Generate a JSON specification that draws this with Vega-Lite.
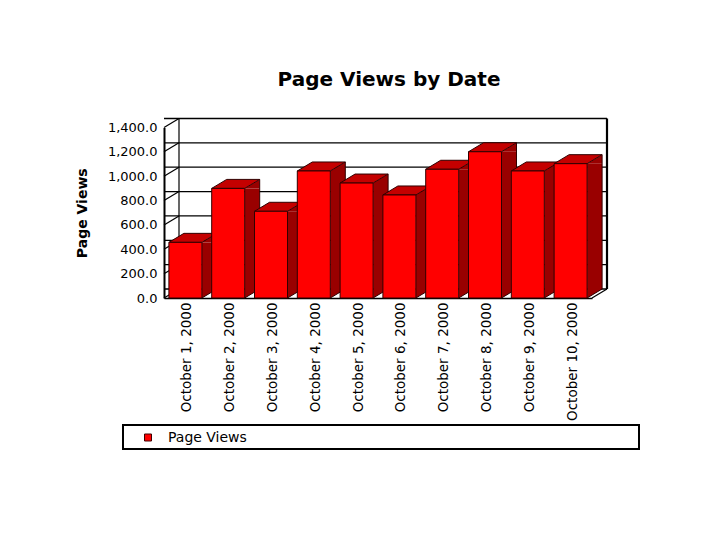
{
  "$schema": "https://vega.github.io/schema/vega-lite/v6.json",
  "width": 428,
  "height": 170.5,
  "autosize": {"type": "none"},
  "padding": {"left": 164, "top": 127.5, "right": 128, "bottom": 242},
  "background": "white",
  "title": {"text": "Page Views by Date", "font": "DejaVu Sans", "fontSize": 20, "fontWeight": "bold", "color": "black", "anchor": "middle", "dx": 11, "offset": 26},
  "config": {"view": {"stroke": null}, "axisY": {"labelOverlap": false, "labelBound": false, "labelSeparation": 0}},
  "datasets": {
    "views": [
      {"date": "October 1, 2000", "views": 457, "base": 0},
      {"date": "October 2, 2000", "views": 900, "base": 0},
      {"date": "October 3, 2000", "views": 712, "base": 0},
      {"date": "October 4, 2000", "views": 1043, "base": 0},
      {"date": "October 5, 2000", "views": 944, "base": 0},
      {"date": "October 6, 2000", "views": 846, "base": 0},
      {"date": "October 7, 2000", "views": 1057, "base": 0},
      {"date": "October 8, 2000", "views": 1201, "base": 0},
      {"date": "October 9, 2000", "views": 1043, "base": 0},
      {"date": "October 10, 2000", "views": 1103, "base": 0}
    ],
    "ticks": [{"tick": 0}, {"tick": 200}, {"tick": 400}, {"tick": 600}, {"tick": 800}, {"tick": 1000}, {"tick": 1200}, {"tick": 1400}],
    "wall": [{"date": "October 1, 2000", "last": "October 10, 2000", "low": 0, "high": 1400}],
    "tickwall": [
      {"date": "October 1, 2000", "tick": 0}, {"date": "October 1, 2000", "tick": 200}, {"date": "October 1, 2000", "tick": 400}, {"date": "October 1, 2000", "tick": 600},
      {"date": "October 1, 2000", "tick": 800}, {"date": "October 1, 2000", "tick": 1000}, {"date": "October 1, 2000", "tick": 1200}, {"date": "October 1, 2000", "tick": 1400}
    ]
  },
  "layer": [
    {
      "data": {"name": "ticks"},
      "mark": {"type": "rule", "color": "black", "strokeWidth": 1.3, "xOffset": 15, "yOffset": -9},
      "encoding": {
        "y": {
          "field": "tick",
          "type": "quantitative",
          "title": "Page Views",
          "scale": {"domain": [0, 1400], "nice": false},
          "axis": {"format": ",.1f", "tickCount": 8, "values": [0, 200, 400, 600, 800, 1000, 1200, 1400], "labelOverlap": false, "labelFont": "DejaVu Sans", "labelFontSize": 13, "labelColor": "black", "labelPadding": 7, "ticks": false, "grid": false, "domainColor": "black", "domainWidth": 2, "titleFont": "DejaVu Sans", "titleFontSize": 14, "titleFontWeight": "bold", "titleColor": "black", "titlePadding": 18}
        }
      }
    },
    {
      "data": {"name": "tickwall"},
      "mark": {"type": "point", "shape": "M-21.4,0L-6.4,-9", "size": 4, "filled": false, "stroke": "black", "strokeWidth": 1.2, "opacity": 1},
      "encoding": {"x": {"field": "date", "type": "nominal"}, "y": {"field": "tick", "type": "quantitative"}}
    },
    {
      "data": {"name": "wall"},
      "mark": {"type": "rule", "color": "black", "strokeWidth": 1.2, "xOffset": -6.4, "yOffset": -9, "y2Offset": -9},
      "encoding": {
        "x": {
          "field": "date",
          "type": "nominal",
          "title": null,
          "scale": {"domain": ["October 1, 2000", "October 2, 2000", "October 3, 2000", "October 4, 2000", "October 5, 2000", "October 6, 2000", "October 7, 2000", "October 8, 2000", "October 9, 2000", "October 10, 2000"], "paddingInner": 0, "paddingOuter": 0},
          "axis": {"labelAngle": -90, "labelFont": "DejaVu Sans", "labelFontSize": 13.5, "labelColor": "black", "labelPadding": 4, "labelOffset": 2, "labelLimit": 0, "ticks": false, "domainColor": "black", "domainWidth": 1.5, "grid": false, "labelOverlap": false}
        },
        "y": {"field": "low", "type": "quantitative"},
        "y2": {"field": "high"}
      }
    },
    {
      "data": {"name": "wall"},
      "mark": {"type": "rule", "color": "black", "strokeWidth": 2.2, "xOffset": 36.4, "yOffset": -9, "y2Offset": -9},
      "encoding": {"x": {"field": "last", "type": "nominal"}, "y": {"field": "low", "type": "quantitative"}, "y2": {"field": "high"}}
    },
    {
      "data": {"name": "wall"},
      "mark": {"type": "point", "shape": "M21.4,0L36.4,-9", "size": 4, "filled": false, "stroke": "black", "strokeWidth": 1.2, "opacity": 1},
      "encoding": {"x": {"field": "last", "type": "nominal"}, "y": {"field": "low", "type": "quantitative"}}
    },
    {
      "data": {"name": "wall"},
      "mark": {"type": "point", "shape": "M-62.4,127L453.6,127L453.6,151L-62.4,151Z", "size": 4, "filled": false, "stroke": "black", "strokeWidth": 2, "opacity": 1},
      "encoding": {"x": {"field": "date", "type": "nominal"}, "y": {"field": "low", "type": "quantitative"}}
    },
    {
      "data": {"name": "views"},
      "mark": {"type": "bar", "width": 15, "xOffset": 24, "color": "#990000", "y2Offset": -9},
      "encoding": {"x": {"field": "date", "type": "nominal"}, "y": {"field": "views", "type": "quantitative", "stack": null}, "y2": {"field": "base"}}
    },
    {
      "data": {"name": "views"},
      "mark": {"type": "point", "shape": "M16.5,0L31.5,-9L31.5,0Z", "size": 4, "filled": true, "fill": "#990000", "strokeWidth": 0, "opacity": 1},
      "encoding": {"x": {"field": "date", "type": "nominal"}, "y": {"field": "views", "type": "quantitative"}}
    },
    {
      "data": {"name": "views"},
      "mark": {"type": "point", "shape": "M16.5,0L31.5,-9L16.5,-9Z", "size": 4, "filled": true, "fill": "#990000", "strokeWidth": 0, "opacity": 1},
      "encoding": {"x": {"field": "date", "type": "nominal"}, "y": {"field": "base", "type": "quantitative"}}
    },
    {
      "data": {"name": "views"},
      "mark": {"type": "point", "shape": "M16.5,0L31.5,-9", "size": 4, "filled": false, "stroke": "#300000", "strokeWidth": 1, "opacity": 1},
      "encoding": {"x": {"field": "date", "type": "nominal"}, "y": {"field": "base", "type": "quantitative"}}
    },
    {
      "data": {"name": "views"},
      "mark": {"type": "rule", "color": "#300000", "strokeWidth": 1, "xOffset": 31.5, "yOffset": -9, "y2Offset": -9},
      "encoding": {"x": {"field": "date", "type": "nominal"}, "y": {"field": "views", "type": "quantitative"}, "y2": {"field": "base"}}
    },
    {
      "data": {"name": "views"},
      "mark": {"type": "point", "shape": "M-16.5,0L-1.5,-9L31.5,-9L16.5,0Z", "size": 4, "filled": true, "fill": "#c40000", "stroke": "#300000", "strokeWidth": 1, "opacity": 1},
      "encoding": {"x": {"field": "date", "type": "nominal"}, "y": {"field": "views", "type": "quantitative"}}
    },
    {
      "data": {"name": "views"},
      "mark": {"type": "bar", "width": 33, "stroke": "#300000", "strokeWidth": 1},
      "encoding": {
        "x": {"field": "date", "type": "nominal"},
        "y": {"field": "views", "type": "quantitative", "stack": null},
        "y2": {"field": "base"},
        "color": {
          "datum": "Page Views",
          "scale": {"range": ["#ff0000"]},
          "legend": {
            "title": null,
            "orient": "none",
            "legendX": -41,
            "legendY": 298,
            "padding": 5,
            "symbolType": "square",
            "symbolSize": 49,
            "symbolOffset": 13,
            "symbolFillColor": "#d00000",
            "symbolStrokeColor": "#400000",
            "symbolStrokeWidth": 1,
            "labelFont": "DejaVu Sans",
            "labelFontSize": 14,
            "labelColor": "black",
            "labelLimit": 0,
            "labelOffset": 13
          }
        }
      }
    }
  ]
}
